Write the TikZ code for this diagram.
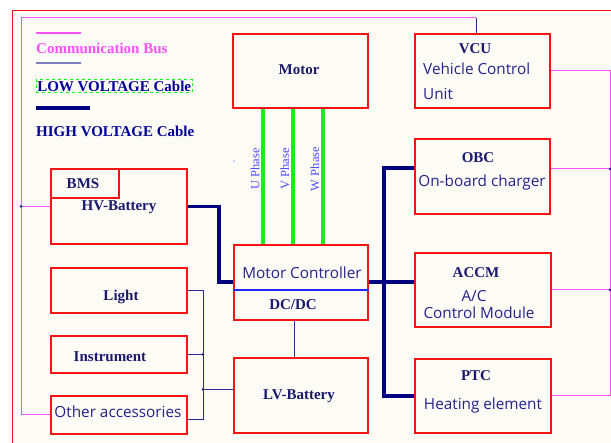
\documentclass[tikz,border=0pt]{standalone}
\usepackage{fontspec}
\setmainfont{Liberation Serif}
\newfontfamily\uifont{Open Sans}
\usetikzlibrary{calc}
\definecolor{boxred}{RGB}{245,20,20}
\definecolor{busmagenta}{RGB}{255,80,255}
\definecolor{lvblue}{RGB}{40,40,150}
\definecolor{hvnavy}{RGB}{0,0,128}
\definecolor{phasegreen}{RGB}{30,235,30}
\definecolor{labelnavy}{RGB}{25,25,110}
\definecolor{textblue}{RGB}{35,35,140}
\definecolor{paper}{RGB}{253,251,246}

\begin{document}
\begin{tikzpicture}[x=1pt,y=-1pt,
    box/.style={draw=boxred,line width=1.8pt,inner sep=0pt,anchor=north west},
    title/.style={font=\fontsize{15}{17}\selectfont\bfseries,text=labelnavy,inner sep=0pt},
    desc/.style={font=\uifont\fontsize{15.3}{17}\selectfont,text=textblue,inner sep=0pt},
    phase/.style={font=\fontsize{12.5}{14}\selectfont,text=blue!70!white,rotate=90,inner sep=0pt},
    comm/.style={busmagenta,line width=1pt},
    lv/.style={lvblue,line width=0.9pt},
    hv/.style={hvnavy,line width=3.5pt},
    phasewire/.style={phasegreen,line width=3.5pt},
    junction/.style={circle,fill=lvblue,inner sep=0pt,minimum size=3pt}]
    \useasboundingbox (0,0) rectangle (611,443);

    % Sheet
    \fill[paper] (12,10) rectangle (611,443);
    \draw[boxred,line width=0.8pt] (611,10) -- (12,10) -- (12,443);

    % Legend
    \draw[comm,line width=1.3pt] (36,33) -- (81,33);
    \node[title,text=busmagenta,anchor=west] (lgcomm) at (36,48) {Communication Bus};
    \draw[lvblue!60,line width=1.5pt] (36,63) -- (81,63);
    \node[title,text=blue!60!black,anchor=west,draw=green,dashed,line width=0.5pt,inner sep=1pt] (lglv) at (36,86) {LOW VOLTAGE Cable};
    \draw[hv] (36,108) -- (90,108);
    \node[title,text=blue!60!black,anchor=west] (lghv) at (36,131) {HIGH VOLTAGE Cable};

    % Blocks
    \node[box,minimum width=135,minimum height=74] (motor) at (232,33) {};
    \node[box,minimum width=135,minimum height=74] (vcu) at (414,33) {};
    \node[box,minimum width=135,minimum height=75] (obc) at (414,138) {};
    \node[box,minimum width=136,minimum height=75] (hvb) at (50,168) {};
    \node[box,minimum width=68,minimum height=29] (bms) at (50,168) {};
    \node[box,minimum width=134,minimum height=75] (mc) at (233,244) {};
    \node[box,minimum width=136,minimum height=74] (accm) at (414,252) {};
    \node[box,minimum width=136,minimum height=45] (light) at (50,267) {};
    \node[box,minimum width=136,minimum height=37] (inst) at (50,335) {};
    \node[box,minimum width=134,minimum height=75] (lvb) at (233,357) {};
    \node[box,minimum width=136,minimum height=74] (ptc) at (414,358) {};
    \node[box,minimum width=136,minimum height=38] (other) at (50,395) {};

    % Block texts
    \node[title] (tmotor) at (299,70) {Motor};
    \node[title] (tvcu) at (475,49) {VCU};
    \node[desc,anchor=west] (dvcu1) at (423,69) {Vehicle Control};
    \node[desc,anchor=west] (dvcu2) at (423,94) {Unit};
    \node[title] (tobc) at (478,158) {OBC};
    \node[desc] (dobc) at (482,183) {On-board charger};
    \node[title] (tbms) at (83,184) {BMS};
    \node[title] (thvb) at (119,207) {HV-Battery};
    \node[title] (tlight) at (121,297) {Light};
    \node[title] (tinst) at (110,357) {Instrument};
    \node[desc] (dother) at (118,412) {Other accessories};
    \node[desc] (dmc) at (302,273) {Motor Controller};
    \node[title] (tdcdc) at (293,305) {DC/DC};
    \node[title] (tlvb) at (299,396) {LV-Battery};
    \node[title] (taccm) at (476,273) {ACCM};
    \node[desc] (daccm1) at (474,296) {A/C};
    \node[desc] (daccm2) at (479,313) {Control Module};
    \node[title] (tptc) at (476,376) {PTC};
    \node[desc] (dptc) at (483,406) {Heating element};

    % DC/DC divider
    \draw[blue!85!white,line width=1.2pt] ([yshift=-46pt]mc.north west) -- ([yshift=-46pt]mc.north east);

    % Motor phases
    \foreach \x/\ph in {263/U,293/V,323/W} {
        \coordinate (ph\ph) at (\x,0);
        \draw[phasewire] (motor.south -| ph\ph) -- (mc.north -| ph\ph);
        \node[phase] (l\ph) at (\x-8,169) {\ph\ Phase};
    }
    \fill[blue!75!white] (234,161) circle (0.7);

    % Ports
    \coordinate (mcin) at ([yshift=-38pt]mc.north west);
    \coordinate (mcout) at ([yshift=-38pt]mc.north east);
    \coordinate (obcin) at ([yshift=-30pt]obc.north west);
    \coordinate (otherlv) at ([yshift=-5pt]other.east);
    \coordinate (lvbin) at ([yshift=6pt]lvb.west);
    \coordinate (dcdcout) at ([xshift=-6pt]mc.south);
    \coordinate (vcutop) at ([xshift=-6pt]vcu.north);
    \coordinate (vcucomm) at ([yshift=-38pt]vcu.north east);
    \coordinate (obccomm) at ([yshift=-31pt]obc.north east);

    % High voltage
    \coordinate (hvx) at (384,0);
    \draw[hv] (hvb.east) -- ++(31,0) |- (mcin);
    \draw[hv] (mcout) -- (mcout -| accm.west);
    \draw[hv] (obcin) -| (hvx |- ptc.west) -- (ptc.west);
    \node[junction,fill=hvnavy,minimum size=5pt] (jhv) at (mcout -| hvx) {};

    % Low voltage
    \coordinate (lvx) at (203,0);
    \draw[lv] (light.east) -| (lvx |- otherlv) -- (otherlv);
    \draw[lv] (inst.east) -- (inst.east -| lvx);
    \draw[lv] (lvbin) -- (lvbin -| lvx);
    \draw[lv] (dcdcout) -- (dcdcout |- lvb.north);
    \node[junction] (jlv1) at (inst.east -| lvx) {};
    \node[junction] (jlv2) at (lvbin -| lvx) {};

    % Communication bus
    \coordinate (cl) at (21,18);
    \coordinate (cr) at (610,0);
    \draw[comm] (other.west) -| (cl) -- (cl -| vcutop);
    \draw[lv] (cl -| vcutop) -- (vcutop);
    \draw[comm] (hvb.west) -- (hvb.west -| cl);
    \draw[comm] (vcucomm) -| (cr |- ptc.east) -- (ptc.east);
    \draw[comm] (obccomm) -- (obccomm -| cr);
    \draw[comm] (accm.east) -- (accm.east -| cr);
    \node[junction] (jc1) at (hvb.west -| cl) {};
    \node[junction] (jc2) at (obccomm -| cr) {};
    \node[junction] (jc3) at (accm.east -| cr) {};
\end{tikzpicture}
\end{document}
